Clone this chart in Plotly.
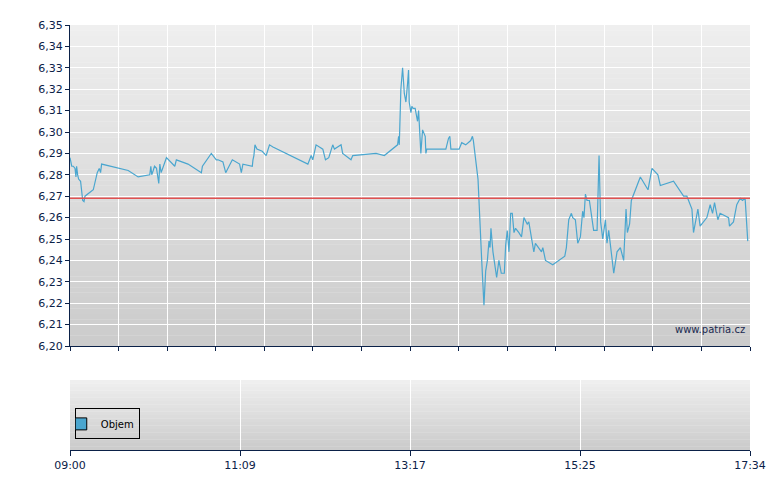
import plotly.graph_objects as go

minutes = [0,1.3,2.5,3.8,4.5,5.0,5.8,6.5,8.0,9.6,10.6,11.3,17.6,20.6,22.1,23.1,23.9,44.0,51.5,60.3,61.1,61.8,62.9,63.9,65.4,67.1,67.9,68.9,72.9,79.2,80.4,89.2,99.3,100.1,106.8,110.6,111.9,115.6,117.7,122.7,128.2,129.5,130.7,137.8,138.3,139.0,139.8,141.3,145.3,148.3,150.8,153.4,179.8,182.3,183.5,186.0,191.1,193.1,195.6,198.6,199.9,204.9,206.1,212.4,213.7,231.3,237.6,247.6,248.4,248.9,250.1,251.4,252.7,253.9,255.2,255.9,256.4,257.7,258.4,259.4,260.9,262.7,263.5,265.2,266.5,268.5,269.0,269.7,284.1,286.1,287.1,287.9,294.1,
           296.1,299.1,302.9,304.2,304.9,308.4,310.4,311.2,312.9,314.2,315.5,316.7,317.5,318.2,319.7,322.5,324.2,326.0,328.3,329.3,330.5,331.8,333.1,334.3,335.6,336.8,339.3,341.3,343.1,345.6,346.8,348.1,350.6,351.8,354.4,356.4,357.4,359.4,364.9,374.0,375.2,377.0,379.0,380.0,382.0,383.8,385.8,387.5,388.5,389.6,390.8,392.6,395.8,398.4,399.9,401.1,402.7,404.7,405.9,407.2,411.0,413.5,416.0,418.5,420.3,421.3,423.0,424.3,431.1,436.9,439.9,444.4,446.2,456.2,463.8,466.3,470.1,471.3,474.6,476.3,481.4,483.9,485.7,487.2,489.7,491.4,497.8,498.5,501.5,504.0,506.6,508.3,510.3,511.6,512.3]
prices = [6.288,6.284,6.284,6.283,6.279,6.284,6.280,6.278,6.277,6.268,6.2675,6.270,6.273,6.281,6.283,6.281,6.285,6.282,6.279,6.280,6.284,6.280,6.282,6.284,6.283,6.276,6.285,6.281,6.288,6.284,6.287,6.285,6.281,6.284,6.290,6.287,6.287,6.286,6.281,6.287,6.285,6.281,6.285,6.284,6.287,6.289,6.294,6.292,6.291,6.289,6.294,6.293,6.285,6.289,6.287,6.294,6.292,6.287,6.288,6.294,6.292,6.294,6.290,6.287,6.289,6.290,6.289,6.294,6.298,6.294,6.320,6.330,6.318,6.314,6.323,6.329,6.314,6.309,6.312,6.311,6.311,6.305,6.310,6.290,6.301,6.298,6.290,6.292,6.292,6.297,6.298,6.292,6.292,
          6.295,6.294,6.296,6.298,6.296,6.278,6.246,6.240,6.219,6.235,6.240,6.249,6.246,6.255,6.244,6.232,6.240,6.234,6.234,6.247,6.254,6.244,6.262,6.262,6.253,6.255,6.253,6.251,6.260,6.257,6.258,6.253,6.244,6.248,6.246,6.244,6.246,6.240,6.238,6.242,6.246,6.259,6.262,6.260,6.259,6.248,6.251,6.263,6.260,6.271,6.268,6.268,6.254,6.254,6.289,6.258,6.250,6.259,6.248,6.254,6.234,6.244,6.246,6.240,6.264,6.253,6.257,6.268,6.279,6.273,6.283,6.280,6.275,6.277,6.270,6.270,6.264,6.253,6.264,6.256,6.260,6.266,6.262,6.267,6.259,6.262,6.260,6.256,6.258,6.266,6.269,6.268,6.269,6.257,6.249]
reference_price = 6.269
bottom_tick_vals = [0, 128.5, 257, 385.5, 514]
bottom_tick_text = ["09:00", "11:09", "13:17", "15:25", "17:34"]
main_grid = [i * 514 / 14 for i in range(15)]
y_ticks = [round(6.20 + i * 0.01, 2) for i in range(16)]

navy = "#0b2148"
fig = go.Figure()
fig.add_trace(go.Scatter(x=minutes, y=prices, mode="lines", line=dict(color="#4aa6cf", width=1.2),
                         showlegend=False, hoverinfo="skip", xaxis="x", yaxis="y"))
fig.add_trace(go.Scatter(x=[0, 514], y=[reference_price]*2, mode="lines", line=dict(color="#e05050", width=1.5),
                         showlegend=False, xaxis="x", yaxis="y"))
fig.add_trace(go.Bar(x=[None], y=[None], name="Objem", marker=dict(color="#4aa6cf", line=dict(color="black", width=1)),
                     xaxis="x2", yaxis="y2", showlegend=True))

shapes = []
for ax, yd, n in (("", "y", 60), ("2", "y2", 20)):
    top, bot = (239, 239, 239), (204, 204, 204)
    for i in range(n):
        t = i / (n - 1)
        c = tuple(int(top[k] + (bot[k] - top[k]) * t) for k in range(3))
        shapes.append(dict(type="rect", xref=f"x{ax} domain", yref=f"{yd} domain", x0=0, x1=1,
                           y0=1 - (i + 1.05) / n, y1=1 - i / n, fillcolor="rgb(%d,%d,%d)" % c,
                           line=dict(width=0), layer="below"))

fig.update_layout(
    width=780, height=490, margin=dict(l=62, r=38, t=17, b=48, autoexpand=False),
    paper_bgcolor="white", plot_bgcolor="rgba(0,0,0,0)", separators=", ",
    font=dict(family="DejaVu Sans", size=11, color=navy),
    shapes=shapes,
    xaxis=dict(domain=[0, 1], range=[0, 514], tickvals=main_grid, showticklabels=False, ticks="outside",
               ticklen=4, tickcolor=navy, showgrid=True, gridcolor="white", gridwidth=1.3, automargin=False,
               showline=True, linecolor=navy, linewidth=1.2, zeroline=False, anchor="y"),
    yaxis=dict(domain=[0.2447, 1], range=[6.20, 6.35], tickvals=y_ticks, tickformat=".2f", ticks="outside",
               ticklen=4, tickcolor=navy, showgrid=True, gridcolor="white", gridwidth=1.3, automargin=False,
               showline=True, linecolor=navy, linewidth=1.2, zeroline=False, anchor="x"),
    xaxis2=dict(domain=[0, 1], range=[0, 514], tickvals=bottom_tick_vals, ticktext=bottom_tick_text,
                ticks="outside", ticklen=5, tickcolor=navy, showgrid=True, gridcolor="white", gridwidth=1.3,
                automargin=False, showline=True, linecolor=navy, linewidth=1.2, zeroline=False, anchor="y2"),
    yaxis2=dict(domain=[0, 0.1647], range=[0, 1], showticklabels=False, showgrid=False, zeroline=False,
                showline=False, automargin=False, anchor="x2"),
    legend=dict(x=0.007, y=0.025, xanchor="left", yanchor="bottom", bordercolor="black", borderwidth=1,
                bgcolor="rgba(0,0,0,0)", font=dict(size=10, color="black"), itemwidth=30,
                tracegroupgap=0, indentation=-15),
    annotations=[dict(text="www.patria.cz", xref="paper", yref="paper", x=0.995, y=0.265, xanchor="right",
                      yanchor="bottom", showarrow=False, font=dict(size=10, color="#1a2a50"))],
)
fig.write_html("out.html")
